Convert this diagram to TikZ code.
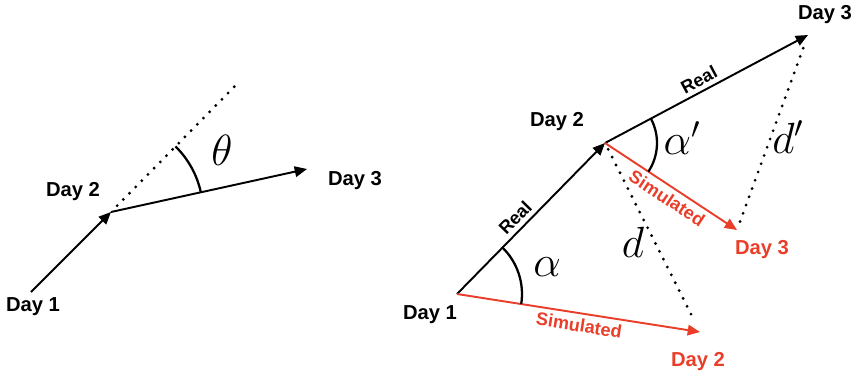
\documentclass[tikz,border=0pt]{standalone}
\usepackage{fontspec}
\setsansfont{Liberation Sans}
\usetikzlibrary{arrows.meta,angles}
\definecolor{simred}{RGB}{232,62,42}
\begin{document}
\begin{tikzpicture}[x=0.02cm,y=0.02cm,
  vec/.style={line width=1.1pt,-{Triangle[length=7pt,width=6pt]}},
  dots/.style={line width=1.8pt,line cap=round,dash pattern=on 0pt off 5pt},
  day/.style={font=\sffamily\bfseries\fontsize{11.5}{13}\selectfont},
  lab/.style={font=\sffamily\bfseries\fontsize{10.3}{12}\selectfont,inner sep=2.5pt},
  sym/.style={font=\fontsize{26}{30}\selectfont},
  ang/.style={draw,line width=1.3pt}]
\useasboundingbox (0,0) rectangle (858,376);
\coordinate (A1) at (31,84);
\coordinate (A2) at (111,164);
\coordinate (A3) at (307,207);
\coordinate (Ae) at (236,291);
\draw[vec] (A1) -- (A2);
\draw[vec] (A2) -- (A3);
\draw[dots,shorten <=5pt] (A2) -- (Ae);
\pic[ang,angle radius=1.84cm] {angle=A3--A2--Ae};
\node[sym] (theta) at (222,226) {$\theta$};
\node[day] (a1) at (33,69) {Day 1};
\node[day] (a2) at (73,184) {Day 2};
\node[day] (a3) at (355,195) {Day 3};
\coordinate (R1) at (457,82);
\coordinate (R2) at (605,233);
\coordinate (R3) at (808,341);
\coordinate (S2) at (700,44);
\coordinate (S3) at (737,146);
\draw[dots,shorten <=4pt,shorten >=8pt] (R2) -- (S2);
\draw[dots,shorten <=8pt,shorten >=3pt] (R3) -- (S3);
\draw[vec] (R1) -- node[lab,sloped,above,pos=0.45] {Real} (R2);
\draw[vec] (R2) -- node[lab,sloped,above,pos=0.49] {Real} (R3);
\draw[vec,simred] (R1) -- node[lab,sloped,below,pos=0.51] {Simulated} (S2);
\draw[vec,simred] (R2) -- node[lab,sloped,below,pos=0.52] {Simulated} (S3);
\pic[ang,angle radius=1.3cm] {angle=S2--R1--R2};
\pic[ang,angle radius=1.04cm] {angle=S3--R2--R3};
\node[sym] (alpha) at (547,109) {$\alpha$};
\node[sym] (alphap) at (682,238) {$\alpha'$};
\node[sym] (dd) at (633,134) {$d$};
\node[sym] (ddp) at (788,239) {$d'$};
\node[day] (r1) at (430,61) {Day 1};
\node[day] (r2) at (557,254) {Day 2};
\node[day] (r3) at (825,361) {Day 3};
\node[day,simred] (s2) at (698,14) {Day 2};
\node[day,simred] (s3) at (762,126) {Day 3};
\end{tikzpicture}
\end{document}
